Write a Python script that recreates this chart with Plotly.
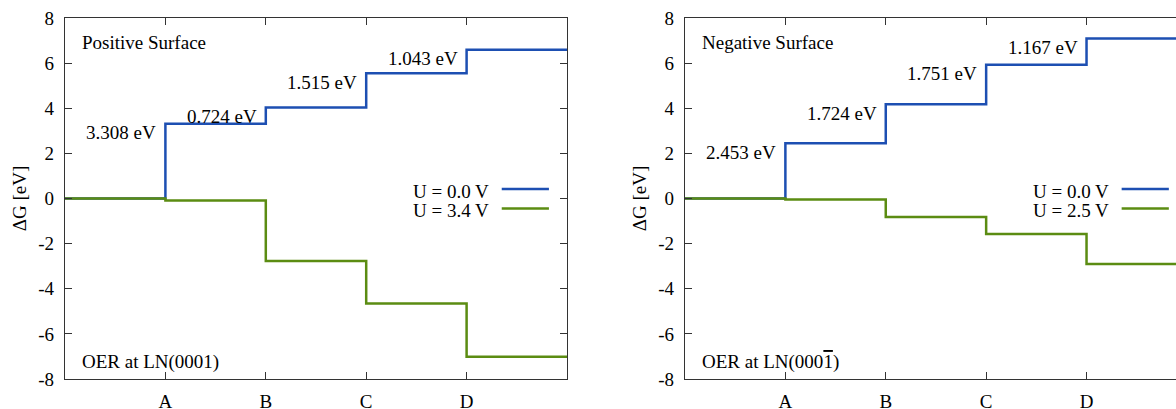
import plotly.graph_objects as go

# ---- data ----
steps_x = [0, 1, 2, 3, 4, 5]
step_labels = ["A", "B", "C", "D"]
step_ticks = [1, 2, 3, 4]

pos_u0 = [0.0, 3.308, 4.032, 5.547, 6.590, 6.590]
pos_u34 = [0.0, -0.092, -2.768, -4.653, -7.010, -7.010]
pos_dg = ["3.308 eV", "0.724 eV", "1.515 eV", "1.043 eV"]

neg_u0 = [0.0, 2.453, 4.177, 5.928, 7.095, 7.095]
neg_u25 = [0.0, -0.047, -0.823, -1.572, -2.905, -2.905]
neg_dg = ["2.453 eV", "1.724 eV", "1.751 eV", "1.167 eV"]

y_ticks = [-8, -6, -4, -2, 0, 2, 4, 6, 8]
y_ticktext = ["-8", "-6", "-4", "-2", "0", "2", "4", "6", "8"]

BLUE = "#1d4fb2"
GREEN = "#5b8c12"
AX = "#333333"
FONT = "Liberation Serif"
FS = 19

W, H = 1176, 409
fig = go.Figure()

fig.add_trace(go.Scatter(x=steps_x, y=pos_u0, mode="lines", line=dict(color=BLUE, width=2.5, shape="hv"),
                         xaxis="x", yaxis="y", showlegend=False))
fig.add_trace(go.Scatter(x=steps_x, y=pos_u34, mode="lines", line=dict(color=GREEN, width=2.5, shape="hv"),
                         xaxis="x", yaxis="y", showlegend=False))
fig.add_trace(go.Scatter(x=steps_x, y=neg_u0, mode="lines", line=dict(color=BLUE, width=2.5, shape="hv"),
                         xaxis="x2", yaxis="y2", showlegend=False, cliponaxis=True))
fig.add_trace(go.Scatter(x=steps_x, y=neg_u25, mode="lines", line=dict(color=GREEN, width=2.5, shape="hv"),
                         xaxis="x2", yaxis="y2", showlegend=False, cliponaxis=True))

ann = []
shapes = []
for xa, ya, levels, labels in [("x", "y", pos_u0, pos_dg), ("x2", "y2", neg_u0, neg_dg)]:
    for i, lab in enumerate(labels):
        ann.append(dict(x=steps_x[i + 1], y=levels[i + 1], xref=xa, yref=ya, text=lab, showarrow=False,
                        xanchor="right", yanchor="middle", xshift=-7, yshift=-9,
                        font=dict(family=FONT, size=FS, color="black")))

def legend(xa, ya, labels):
    for j, (lab, col) in enumerate(labels):
        yy = 0.42 - 0.86 * j
        ann.append(dict(x=4.24, y=yy, xref=xa, yref=ya, text=lab, showarrow=False, xanchor="right",
                        yanchor="middle", yshift=-2, font=dict(family=FONT, size=FS, color="black")))
        shapes.append(dict(type="line", xref=xa, yref=ya, x0=4.35, x1=4.82, y0=yy, y1=yy,
                           line=dict(color=col, width=2.5)))

legend("x", "y", [("U = 0.0 V", BLUE), ("U = 3.4 V", GREEN)])
legend("x2", "y2", [("U = 0.0 V", BLUE), ("U = 2.5 V", GREEN)])

for xa, ya, t1, t2 in [("x", "y", "Positive Surface", "OER at LN(0001)"),
                       ("x2", "y2", "Negative Surface",
                        "OER at LN(000<span style='text-decoration:overline'>1</span>)")]:
    ann.append(dict(x=0.15, y=6.9, xref=xa, yref=ya, text=t1, showarrow=False, xanchor="left",
                    yanchor="middle", font=dict(family=FONT, size=FS, color="black")))
    ann.append(dict(x=0.15, y=-7.25, xref=xa, yref=ya, text=t2, showarrow=False, xanchor="left",
                    yanchor="middle", font=dict(family=FONT, size=FS, color="black")))

common_x = dict(tickmode="array", tickvals=step_ticks, ticktext=step_labels, ticks="inside", ticklen=7,
                tickwidth=1, tickcolor=AX, showline=True, linecolor=AX, linewidth=1.3, showgrid=False,
                zeroline=False, tickfont=dict(family=FONT, size=FS, color="black"), ticklabelstandoff=5,
                automargin=False)
common_y = dict(tickmode="array", tickvals=y_ticks, ticktext=y_ticktext, range=[-8, 8], ticks="inside",
                ticklen=7, tickwidth=1, tickcolor=AX, showline=True, linecolor=AX, linewidth=1.3,
                showgrid=False, zeroline=False, tickfont=dict(family=FONT, size=FS, color="black"),
                ticklabelstandoff=6, automargin=False,
                title=dict(text="ΔG [eV]", font=dict(family=FONT, size=FS, color="black"), standoff=6))

fig.update_layout(
    width=W, height=H,
    margin=dict(l=0, r=0, t=18, b=30, autoexpand=False),
    paper_bgcolor="white", plot_bgcolor="white",
    xaxis=dict(domain=[65 / W, 567 / W], range=[0, 5], mirror="ticks", anchor="y", **common_x),
    yaxis=dict(domain=[0, 1], anchor="x", mirror="ticks", **common_y),
    xaxis2=dict(domain=[685 / W, 1.0], range=[0, (W - 685.4) / 100.3], mirror="ticks", anchor="y2", **common_x),
    yaxis2=dict(domain=[0, 1], anchor="x2", mirror=False, **common_y),
    annotations=ann, shapes=shapes,
)

fig.write_html("out.html", config={"displayModeBar": False},
               post_script="document.body.style.margin='0';document.body.style.overflow='hidden';")
